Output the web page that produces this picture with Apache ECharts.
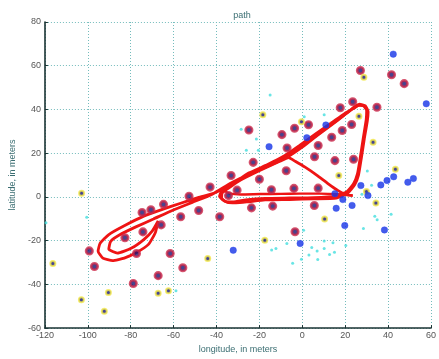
<!DOCTYPE html>
<html>
<head>
<meta charset="utf-8">
<script src="https://cdn.jsdelivr.net/npm/echarts@6/dist/echarts.min.js"></script>
<style>html,body{margin:0;padding:0;background:#fff}#c{width:439px;height:359px}</style>
</head>
<body>
<div id="c"></div>
<script>
// ---- data (meters) ----
const titleText = "path";
const xName = "longitude, in meters";
const yName = "latitude, in meters";
const xRange = [-120, 60];
const yRange = [-60, 80];
const tickStep = 20;

// landmarks with red ring / navy center
const redMarks = [
  [-52.8,0.3],[-43.0,4.5],[-74.7,-7.1],[-70.6,-5.9],[-64.7,-3.4],[-56.7,-9.1],[-48.3,-6.2],
  [-38.5,-9.1],[-65.8,-12.8],[-74.3,-16.0],[-82.7,-18.7],[-99.3,-24.7],[-77.3,-25.9],[-61.6,-25.9],
  [-96.9,-31.8],[-55.7,-32.4],[-67.2,-36.0],[-78.8,-39.6],[-33.2,9.8],[-20.0,8.1],[-30.4,3.1],
  [-14.4,3.3],[-3.9,3.9],[7.4,4.0],[-34.4,0.6],[-23.7,-5.0],[-13.8,-4.2],[5.6,-3.9],[-3.4,-15.9],
  [27.1,57.8],[41.6,55.9],[47.5,51.8],[17.7,40.8],[23.5,43.5],[34.8,41.0],[2.9,33.0],[-3.6,31.4],
  [23.0,33.1],[18.6,30.4],[-24.9,30.6],[-9.5,28.5],[13.7,27.3],[-7.1,22.4],[7.4,23.5],[5.7,18.4],
  [15.2,16.6],[23.9,17.2],[-22.9,15.8],[-7.5,12.0]
];
// yellow ring / navy center
const yellowMarks = [
  [-102.9,1.7],[-116.3,-30.5],[-44.1,-28.2],[-103.0,-47.0],[-90.4,-43.7],[-92.3,-52.3],[-67.2,-44.1],
  [-62.4,-42.9],[17.0,9.8],[10.4,-10.1],[-17.5,-19.8],[29.9,2.5],[34.3,-2.8],[28.7,54.7],[-18.4,37.6],
  [-0.4,34.4],[26.4,36.9],[33.0,25.0],[43.4,12.6]
];
// blue dots
const blueMarks = [
  [15.2,1.5],[18.9,-1.2],[23.2,-3.9],[15.8,-5.2],[27.3,5.2],[36.6,5.5],[39.5,7.5],[42.6,9.2],
  [49.2,6.7],[51.8,8.4],[30.6,0.6],[19.8,-13.1],[38.3,-15.1],[-1.0,-21.3],[-32.2,-24.4],[42.4,65.3],
  [57.8,42.6],[11.0,32.9],[2.1,27.1],[-15.5,23.0]
];
// small cyan dots
const cyanMarks = [
  [-100.5,-9.3],[-119.5,-11.8],[-58.9,-42.9],[27.8,1.2],[32.3,5.3],[30.3,11.9],[33.8,-8.8],[34.9,-10.5],
  [41.4,-7.9],[28.5,-14.5],[0.6,-15.3],[-7.2,-21.3],[-14.3,-24.3],[-12.3,-23.6],[-4.5,-30.3],[-0.4,-28.5],
  [4.4,-23.1],[6.9,-24.7],[10.2,-20.2],[10.2,-23.6],[12.7,-26.3],[7.2,-28.6],[14.3,-21.0],[15.0,-25.3],
  [20.3,-22.2],[3.1,-26.6],[-15.0,46.6],[0.9,36.7],[10.2,37.6],[-28.5,30.9],[-21.4,26.5],[-26.1,21.3],
  [-20.5,21.3]
];
// vehicle path
const pathLap1 = [
  [-6.4,18.5],[0.8,23.4],[7.2,28.3],[13.5,32.8],[19.4,37.3],[23.5,40.4],[26.2,41.9],[28.5,41.7],
  [30.0,39.5],[29.8,35.5],[28.5,27.4],[27.1,18.5],[25.7,10.5],[23.9,6.0],[20.8,2.4],[15.3,0.4],
  [5.3,-0.3],[-6.0,-0.5],[-17.3,-0.7],[-26.4,-1.4],[-32.3,-2.3],[-35.9,-2.1],[-38.6,0.2],[-37.7,2.4],
  [-30.9,6.9],[-23.2,10.9],[-15.0,14.5],[-6.4,18.5]
];
const pathLap2 = [
  [26.4,42.0],[24.4,40.8],[19.7,38.1],[13.4,33.7],[6.7,29.2],[-1.4,23.4],[-7.3,19.4],[-15.9,14.9],[-25.0,10.9],
  [-33.2,5.5],[-40.4,2.0],[-48.6,-0.3],[-56.7,-2.9],[-64.9,-5.6],[-73.9,-8.8],[-83.0,-13.2],
  [-90.2,-17.2],[-94.3,-21.3],[-95.2,-24.8],[-93.0,-28.0],[-88.4,-29.1],[-83.0,-28.0],[-77.1,-25.3],
  [-71.7,-21.7],[-68.5,-16.3],[-67.2,-11.0],[-69.9,-15.5],[-73.9,-19.5],[-79.8,-23.5],[-86.2,-25.7],
  [-90.2,-23.9],[-89.4,-20.4],[-84.9,-17.2],[-77.6,-13.7],[-69.4,-10.1],[-60.4,-6.1],[-51.3,-2.5],
  [-42.2,1.1],[-33.2,6.4],[-23.2,11.3],[-14.1,15.8],[-5.9,19.8],[1.3,24.7],[8.1,29.2],[14.9,34.1],
  [20.8,38.4],[24.4,41.3],[26.7,42.4],[29.4,41.7],[30.7,39.0],[30.3,34.6],[28.9,26.5],[27.5,17.6],
  [26.2,10.0],[24.4,5.5],[21.2,1.7],[15.8,-0.5],[5.3,-0.9],[-6.0,-1.2],[-17.3,-1.4],[-25.9,-2.3],
  [-30.9,-2.7],[-34.9,-2.5],[-37.6,-0.7],[-37.2,2.0],[-28.6,7.8],[-19.6,12.2],[-10.5,16.3],[-6.4,18.0],
  [-3.3,16.3],[1.3,13.6],[6.7,10.0],[12.1,6.0],[16.7,2.9],[20.3,1.1],[23.5,0.6]
];
const pathLap3 = [
  [23.5,0.6],[16.7,1.2],[8.0,1.5],[-1.4,1.5],[-10.0,1.4],[-19.6,1.3],[-28.6,1.1],[-34.0,1.6],
  [-36.5,3.0],[-33.0,5.2]
];

const textFont = "Liberation Sans, Arial, sans-serif";
const chart = echarts.init(document.getElementById('c'), null, {renderer: 'canvas'});
const gridLine = {show: true, lineStyle: {color: '#74bcbc', type: [1, 2], width: 1}};
chart.setOption({
  animation: false,
  backgroundColor: '#ffffff',
  title: {
    text: titleText, left: 237, top: 6, textAlign: 'center',
    textStyle: {fontSize: 9, fontWeight: 'normal', color: '#3b6e72', fontFamily: textFont}
  },
  grid: {left: 39, right: 4, top: 22, bottom: 22, containLabel: false},
  xAxis: {
    type: 'value', min: xRange[0], max: xRange[1], interval: tickStep,
    name: xName, nameLocation: 'middle', nameGap: 13,
    nameTextStyle: {fontSize: 9, color: '#3b6e72', fontFamily: textFont},
    axisLine: {show: true, onZero: false, lineStyle: {color: '#1b3434', width: 1.6}},
    axisTick: {show: true, inside: true, length: 3, lineStyle: {color: '#1b3434'}},
    axisLabel: {fontSize: 9, color: '#555', margin: 3, fontFamily: textFont},
    splitLine: gridLine
  },
  yAxis: {
    type: 'value', min: yRange[0], max: yRange[1], interval: tickStep,
    name: yName, nameLocation: 'middle', nameGap: 22,
    nameTextStyle: {fontSize: 9, color: '#3b6e72', fontFamily: textFont},
    axisLine: {show: true, onZero: false, lineStyle: {color: '#1b3434', width: 1.6}},
    axisTick: {show: true, inside: true, length: 3, lineStyle: {color: '#1b3434'}},
    axisLabel: {fontSize: 9, color: '#555', margin: 4, fontFamily: textFont},
    splitLine: gridLine
  },
  series: [
    {type: 'line', data: pathLap1, symbol: 'none', smooth: 0.15, z: 2,
     lineStyle: {color: '#ee1414', width: 2.8}},
    {type: 'line', data: pathLap2, symbol: 'none', smooth: 0.15, z: 2,
     lineStyle: {color: '#ee1414', width: 2.8}},
    {type: 'line', data: pathLap3, symbol: 'none', smooth: 0.15, z: 2,
     lineStyle: {color: '#ee1414', width: 2.4}},
    {type: 'scatter', data: cyanMarks, symbolSize: 3, z: 3,
     itemStyle: {color: '#44dede'}},
    {type: 'scatter', data: redMarks, symbolSize: 6.5, z: 4,
     itemStyle: {color: '#1a1470', borderColor: '#cc2848', borderWidth: 2.6}},
    {type: 'scatter', data: yellowMarks, symbolSize: 5, z: 4,
     itemStyle: {color: '#14147a', borderColor: '#f2e84a', borderWidth: 2}},
    {type: 'scatter', data: blueMarks, symbolSize: 6.5, z: 4,
     itemStyle: {color: '#1533e6', borderColor: '#2a48f0', borderWidth: 0.5}}
  ]
});
</script>
</body>
</html>
